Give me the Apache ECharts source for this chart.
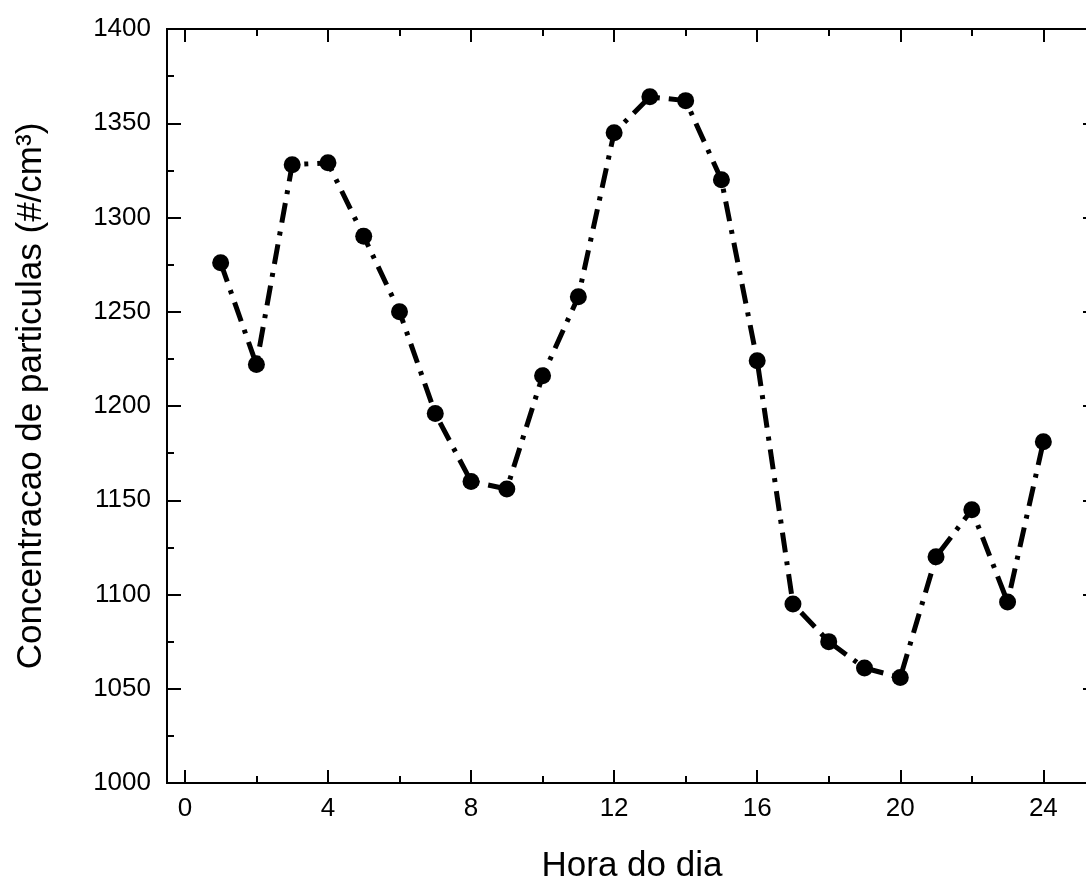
<!DOCTYPE html>
<html>
<head>
<meta charset="utf-8">
<script src="https://cdn.jsdelivr.net/npm/echarts@6/dist/echarts.min.js"></script>
<style>
html, body { margin: 0; padding: 0; background: #fff; }
#container { width: 1086px; height: 880px; }
</style>
</head>
<body>
<div id="container"></div>
<script>
// hour of day and particle concentration
var hours = [1, 2, 3, 4, 5, 6, 7, 8, 9, 10, 11, 12, 13, 14, 15, 16, 17, 18, 19, 20, 21, 22, 23, 24];
var concentration = [1276, 1222, 1328, 1329, 1290, 1250, 1196, 1160, 1156, 1216, 1258, 1345,
                     1364, 1362, 1320, 1224, 1095, 1075, 1061, 1056, 1120, 1145, 1096, 1181];
var xMajorTicks = [0, 4, 8, 12, 16, 20, 24];
var xMinorTicks = [2, 6, 10, 14, 18, 22];

var dom = document.getElementById("container");
var myChart = echarts.init(dom, null, { renderer: 'canvas' });

var font = 'Liberation Sans, Arial, sans-serif';
var black = '#000';

function xAxisBase(pos, ticks, len) {
    return {
        type: 'value',
        position: pos,
        min: -0.5,
        max: 25.5,
        axisLine: { show: true, onZero: false, lineStyle: { color: black, width: 2 } },
        axisTick: { show: true, inside: true, length: len, customValues: ticks,
                    lineStyle: { color: black, width: 2 } },
        axisLabel: { show: false },
        splitLine: { show: false }
    };
}

var xBottom = xAxisBase('bottom', xMajorTicks, 13);
xBottom.axisLabel = {
    show: true, customValues: xMajorTicks, color: black,
    fontSize: 26, fontFamily: font, margin: 13
};
xBottom.name = 'Hora do dia';
xBottom.nameLocation = 'middle';
xBottom.nameGap = 66;
xBottom.nameTextStyle = { color: black, fontSize: 35, fontFamily: font };

function yAxisBase(pos, labels) {
    return {
        type: 'value',
        position: pos,
        min: 1000,
        max: 1400,
        interval: 50,
        axisLine: { show: true, onZero: false, lineStyle: { color: black, width: 2 } },
        axisTick: { show: true, inside: true, length: 14, lineStyle: { color: black, width: 2 } },
        minorTick: { show: true, splitNumber: 2, length: 7, lineStyle: { color: black, width: 2 } },
        axisLabel: { show: labels, color: black, fontSize: 26, fontFamily: font, margin: 16,
                     formatter: function (v) { return String(v); } },
        splitLine: { show: false },
        minorSplitLine: { show: false }
    };
}

var yLeft = yAxisBase('left', true);
yLeft.name = 'Concentracao de particulas (#/cm³)';
yLeft.nameLocation = 'middle';
yLeft.nameGap = 118;
yLeft.nameTextStyle = { color: black, fontSize: 35, fontFamily: font, padding: [0, 0, 0, 20] };

var option = {
    backgroundColor: '#fff',
    animation: false,
    grid: { left: 167, top: 29, width: 930, height: 754, containLabel: false,
            outerBoundsMode: 'none' },
    xAxis: [
        xBottom,
        xAxisBase('bottom', xMinorTicks, 7),
        xAxisBase('top', xMajorTicks, 13),
        xAxisBase('top', xMinorTicks, 7)
    ],
    yAxis: [yLeft, yAxisBase('right', false)],
    series: [{
        type: 'line',
        xAxisIndex: 0,
        yAxisIndex: 0,
        data: hours.map(function (h, i) { return [h, concentration[i]]; }),
        symbol: 'circle',
        symbolSize: 17,
        itemStyle: { color: black },
        lineStyle: { color: black, width: 5, type: [20, 9, 4, 9], cap: 'butt' }
    }]
};

myChart.setOption(option, true);
</script>
</body>
</html>
